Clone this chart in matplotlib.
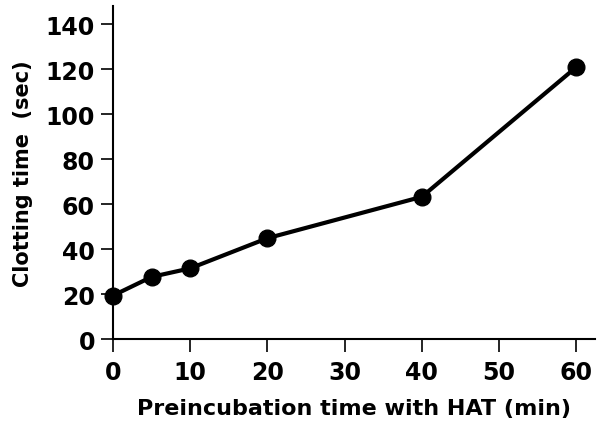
import matplotlib.pyplot as plt

plt.rcParams['font.family'] = 'DejaVu Sans'
plt.rcParams['font.weight'] = 'bold'

# preincubation time (min) vs clotting time (sec)
preinc_min = [0, 5, 10, 20, 40, 60]
clot_sec = [19.3, 27.6, 31.4, 44.8, 63.2, 120.8]

x_ticks = [0, 10, 20, 30, 40, 50, 60]
y_ticks = [0, 20, 40, 60, 80, 100, 120, 140]

fig = plt.figure(figsize=(6.16, 4.39), dpi=100)
ax = fig.add_axes([0.1834, 0.2255, 0.7833, 0.7585])

ax.plot(preinc_min, clot_sec, color='black', linewidth=3.0,
        marker='o', markersize=12, clip_on=False, zorder=3)

ax.set_xlim(0, 62.5)
ax.set_ylim(0, 148)
ax.set_xticks(x_ticks)
ax.set_yticks(y_ticks)

for side in ['top', 'right']:
    ax.spines[side].set_visible(False)
for side in ['left', 'bottom']:
    ax.spines[side].set_linewidth(1.5)

ax.tick_params(direction='out', length=9, width=1.2, labelsize=17, pad=4)
ax.tick_params(axis='x', pad=6)

ax.set_xlabel('Preincubation time with HAT (min)', fontsize=16, fontweight='bold', labelpad=10)
ax.set_ylabel('Clotting time  (sec)', fontsize=15, fontweight='bold', labelpad=9)

fig.savefig('out.png', dpi=100)
